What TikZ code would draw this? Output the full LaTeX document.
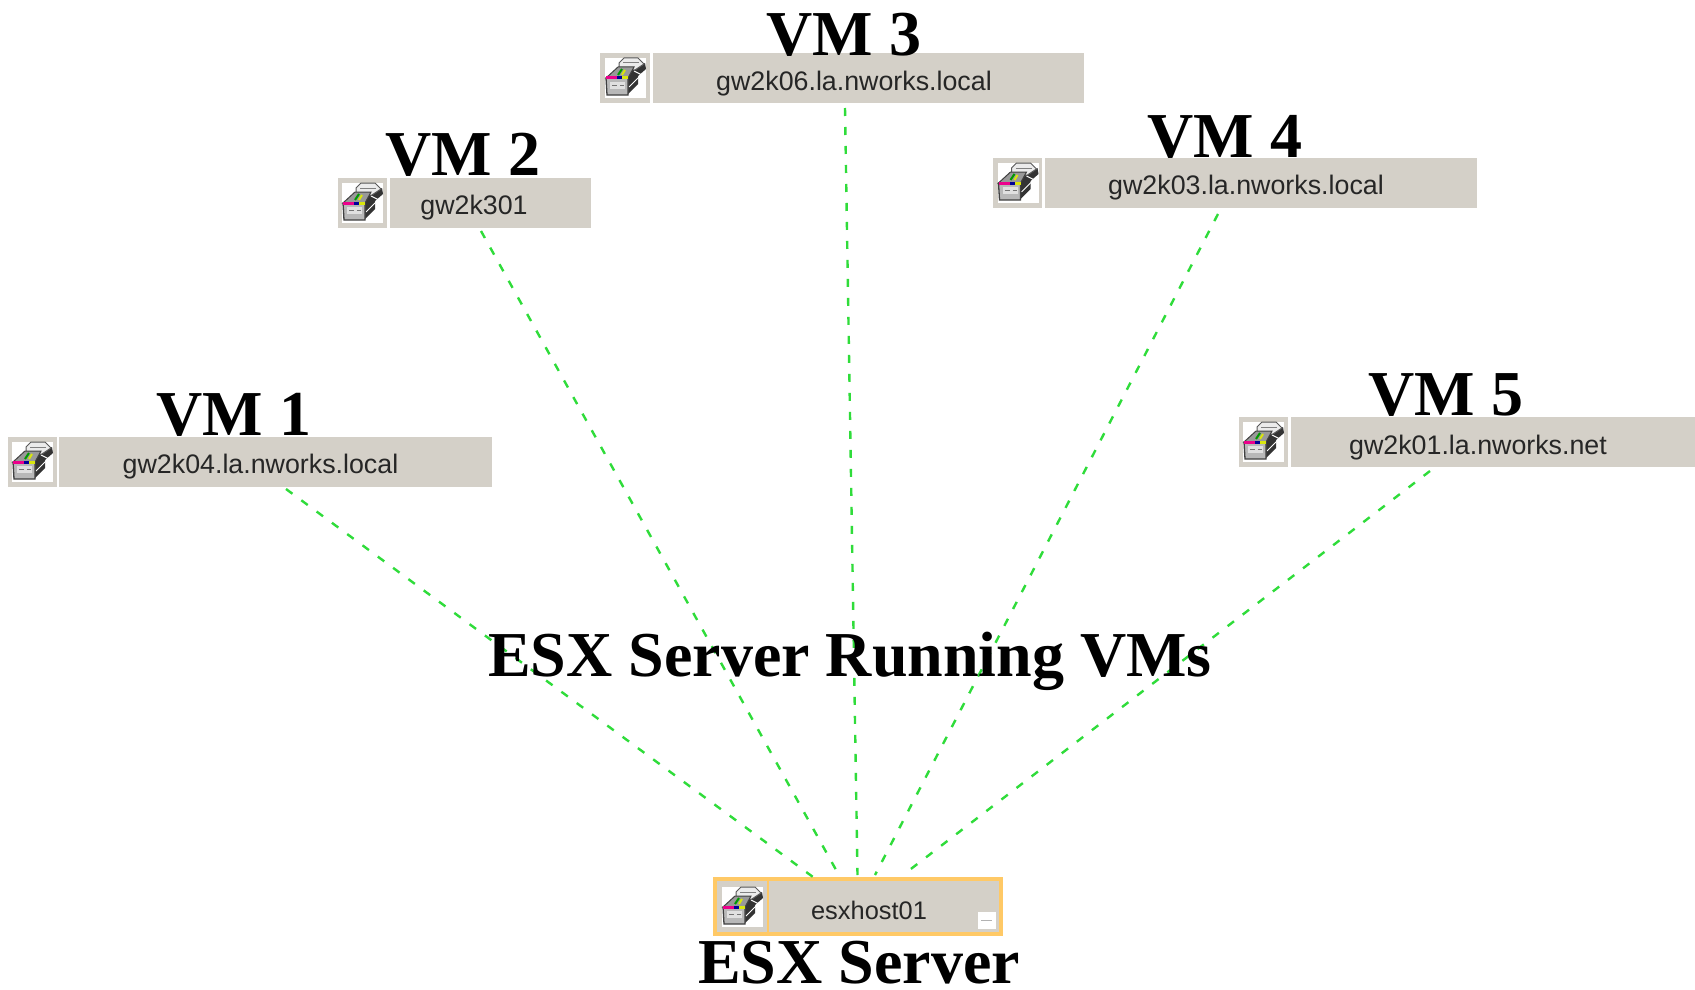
\documentclass[tikz,border=0pt]{standalone}
\usepackage{fontspec}
\setmainfont{Liberation Serif}
\newfontfamily\uifont{Liberation Sans}
\definecolor{boxgrey}{HTML}{D4D0C8}
\definecolor{linkgreen}{HTML}{2FDC3A}
\definecolor{frameorange}{HTML}{FFC966}
\definecolor{inkdark}{HTML}{262626}
\tikzset{
  x=1pt,y=-1pt,
  hostbar/.style={fill=boxgrey,inner sep=0pt},
  hostname/.style={inner sep=0pt,anchor=base,text=inkdark,font=\uifont\fontsize{26.8}{30}\selectfont},
  iconbox/.style={fill=boxgrey,inner sep=0pt},
  vmtitle/.style={font=\bfseries\fontsize{64}{70}\selectfont,inner sep=0pt,text=black},
  link/.style={draw=linkgreen,line width=2.4pt,dash pattern=on 8pt off 11pt},
}
\newcommand{\hosticon}[1]{%
  \begin{scope}[shift={(#1)}]
    \fill[white] (-20,-20) rectangle (21,20);
    % dark right side of the drawers
    \fill[black!80] (3,16) -- (13,6) -- (13,-2) -- (21,-9) -- (20,-15) -- (8,-9) -- (3,0) -- cycle;
    \draw[white,line width=1pt] (4,9) -- (14,-1);
    \draw[white,line width=1pt] (9,-7) -- (17,-3);
    % rear drawer
    \fill[black!8,draw=black!65,line width=1pt] (-6,-15) -- (-1,-20) -- (13,-20) -- (19,-14) -- (10,-8) -- (-6,-8) -- cycle;
    \draw[black!50,line width=1pt] (-2,-15) -- (14,-15);
    % middle drawer
    \fill[black!40,draw=black!75,line width=1pt] (-19,0) -- (-7,-11) -- (9,-11) -- (3,0) -- cycle;
    % front panel
    \fill[black!28,draw=black!75,line width=1.3pt] (-19,0) -- (3,0) -- (3,17) -- (-18,17) -- cycle;
    \fill[black!12] (-15,4) rectangle (0,11);
    \draw[black!55,line width=.8pt] (-13,7) -- (-8,7) (-5,7) -- (-1,7);
    \fill[magenta] (-19,-1.5) rectangle (-8,1.5);
    \fill[blue!60!black] (-8,-1.5) rectangle (-3,1.5);
    \fill[yellow!85!green] (-3,-1.5) rectangle (3,1.5);
    \draw[green!60!black,line width=2pt] (-7,-3) -- (-3,-9);
    \draw[yellow!85!green,line width=2pt] (-3,-3) -- (0,-8);
  \end{scope}}
\begin{document}
\begin{tikzpicture}
\useasboundingbox (0,0) rectangle (1695,990);
% VM host nodes: icon box and label bar
\node[iconbox,minimum width=49pt,minimum height=50pt] (icon1) at (32,462) {};
\node[hostbar,minimum width=433pt,minimum height=50pt] (host1) at (275.5,462) {};
\node[hostname] (name1) at (260.5,473) {gw2k04.la.nworks.local};
\node[iconbox,minimum width=49pt,minimum height=50pt] (icon2) at (362,203) {};
\node[hostbar,minimum width=201pt,minimum height=50pt] (host2) at (490.5,203) {};
\node[hostname] (name2) at (474,214) {gw2k301};
\node[iconbox,minimum width=50pt,minimum height=50pt] (icon3) at (625,78) {};
\node[hostbar,minimum width=431pt,minimum height=50pt] (host3) at (868.5,78) {};
\node[hostname] (name3) at (854,91) {gw2k06.la.nworks.local};
\node[iconbox,minimum width=49pt,minimum height=50pt] (icon4) at (1017.5,183) {};
\node[hostbar,minimum width=432pt,minimum height=50pt] (host4) at (1261,183) {};
\node[hostname] (name4) at (1246,194) {gw2k03.la.nworks.local};
\node[iconbox,minimum width=49pt,minimum height=50pt] (icon5) at (1263,442) {};
\node[hostbar,minimum width=404pt,minimum height=50pt] (host5) at (1493,442) {};
\node[hostname] (name5) at (1478,454) {gw2k01.la.nworks.net};
\hosticon{icon1}
\hosticon{icon2}
\hosticon{icon3}
\hosticon{icon4}
\hosticon{icon5}
% ESX host
\node[draw=frameorange,line width=4pt,fill=boxgrey,minimum width=286pt,minimum height=55pt,inner sep=0pt] (esx) at (858,906.5) {};
\draw[frameorange,line width=2pt] (768,879) -- (768,934);
\hosticon{742,907}
\node[hostname,font=\uifont\fontsize{25.4}{30}\selectfont] (esxname) at (869,919) {esxhost01};
\node[fill=white,minimum width=18pt,minimum height=17pt,inner sep=0pt] (minus) at (986.5,920.5) {};
\draw[black!30,line width=1.5pt] (981,920.5) -- (992,920.5);
% link ends
\coordinate (from1) at (286,489);
\coordinate (from2) at (481,231);
\coordinate (from3) at (845,108);
\coordinate (from4) at (1218,214);
\coordinate (from5) at (1430,471);
\coordinate (to1) at (813,877);
\coordinate (to2) at (840,877);
\coordinate (to3) at (857.5,875);
\coordinate (to4) at (875,875);
\coordinate (to5) at (903,875);
\draw[link] (from1) -- (to1);
\draw[link] (from2) -- (to2);
\draw[link] (from3) -- (to3);
\draw[link] (from4) -- (to4);
\draw[link] (from5) -- (to5);
% captions
\node[vmtitle] (vm1) at (234,415) {VM 1};
\node[vmtitle] (vm2) at (463,155) {VM 2};
\node[vmtitle] (vm3) at (844,35) {VM 3};
\node[vmtitle] (vm4) at (1225,137) {VM 4};
\node[vmtitle] (vm5) at (1446,395) {VM 5};
\node[vmtitle] (running) at (850,661) {ESX Server Running VMs};
\node[vmtitle] (server) at (859,963) {ESX Server};
\end{tikzpicture}
\end{document}
